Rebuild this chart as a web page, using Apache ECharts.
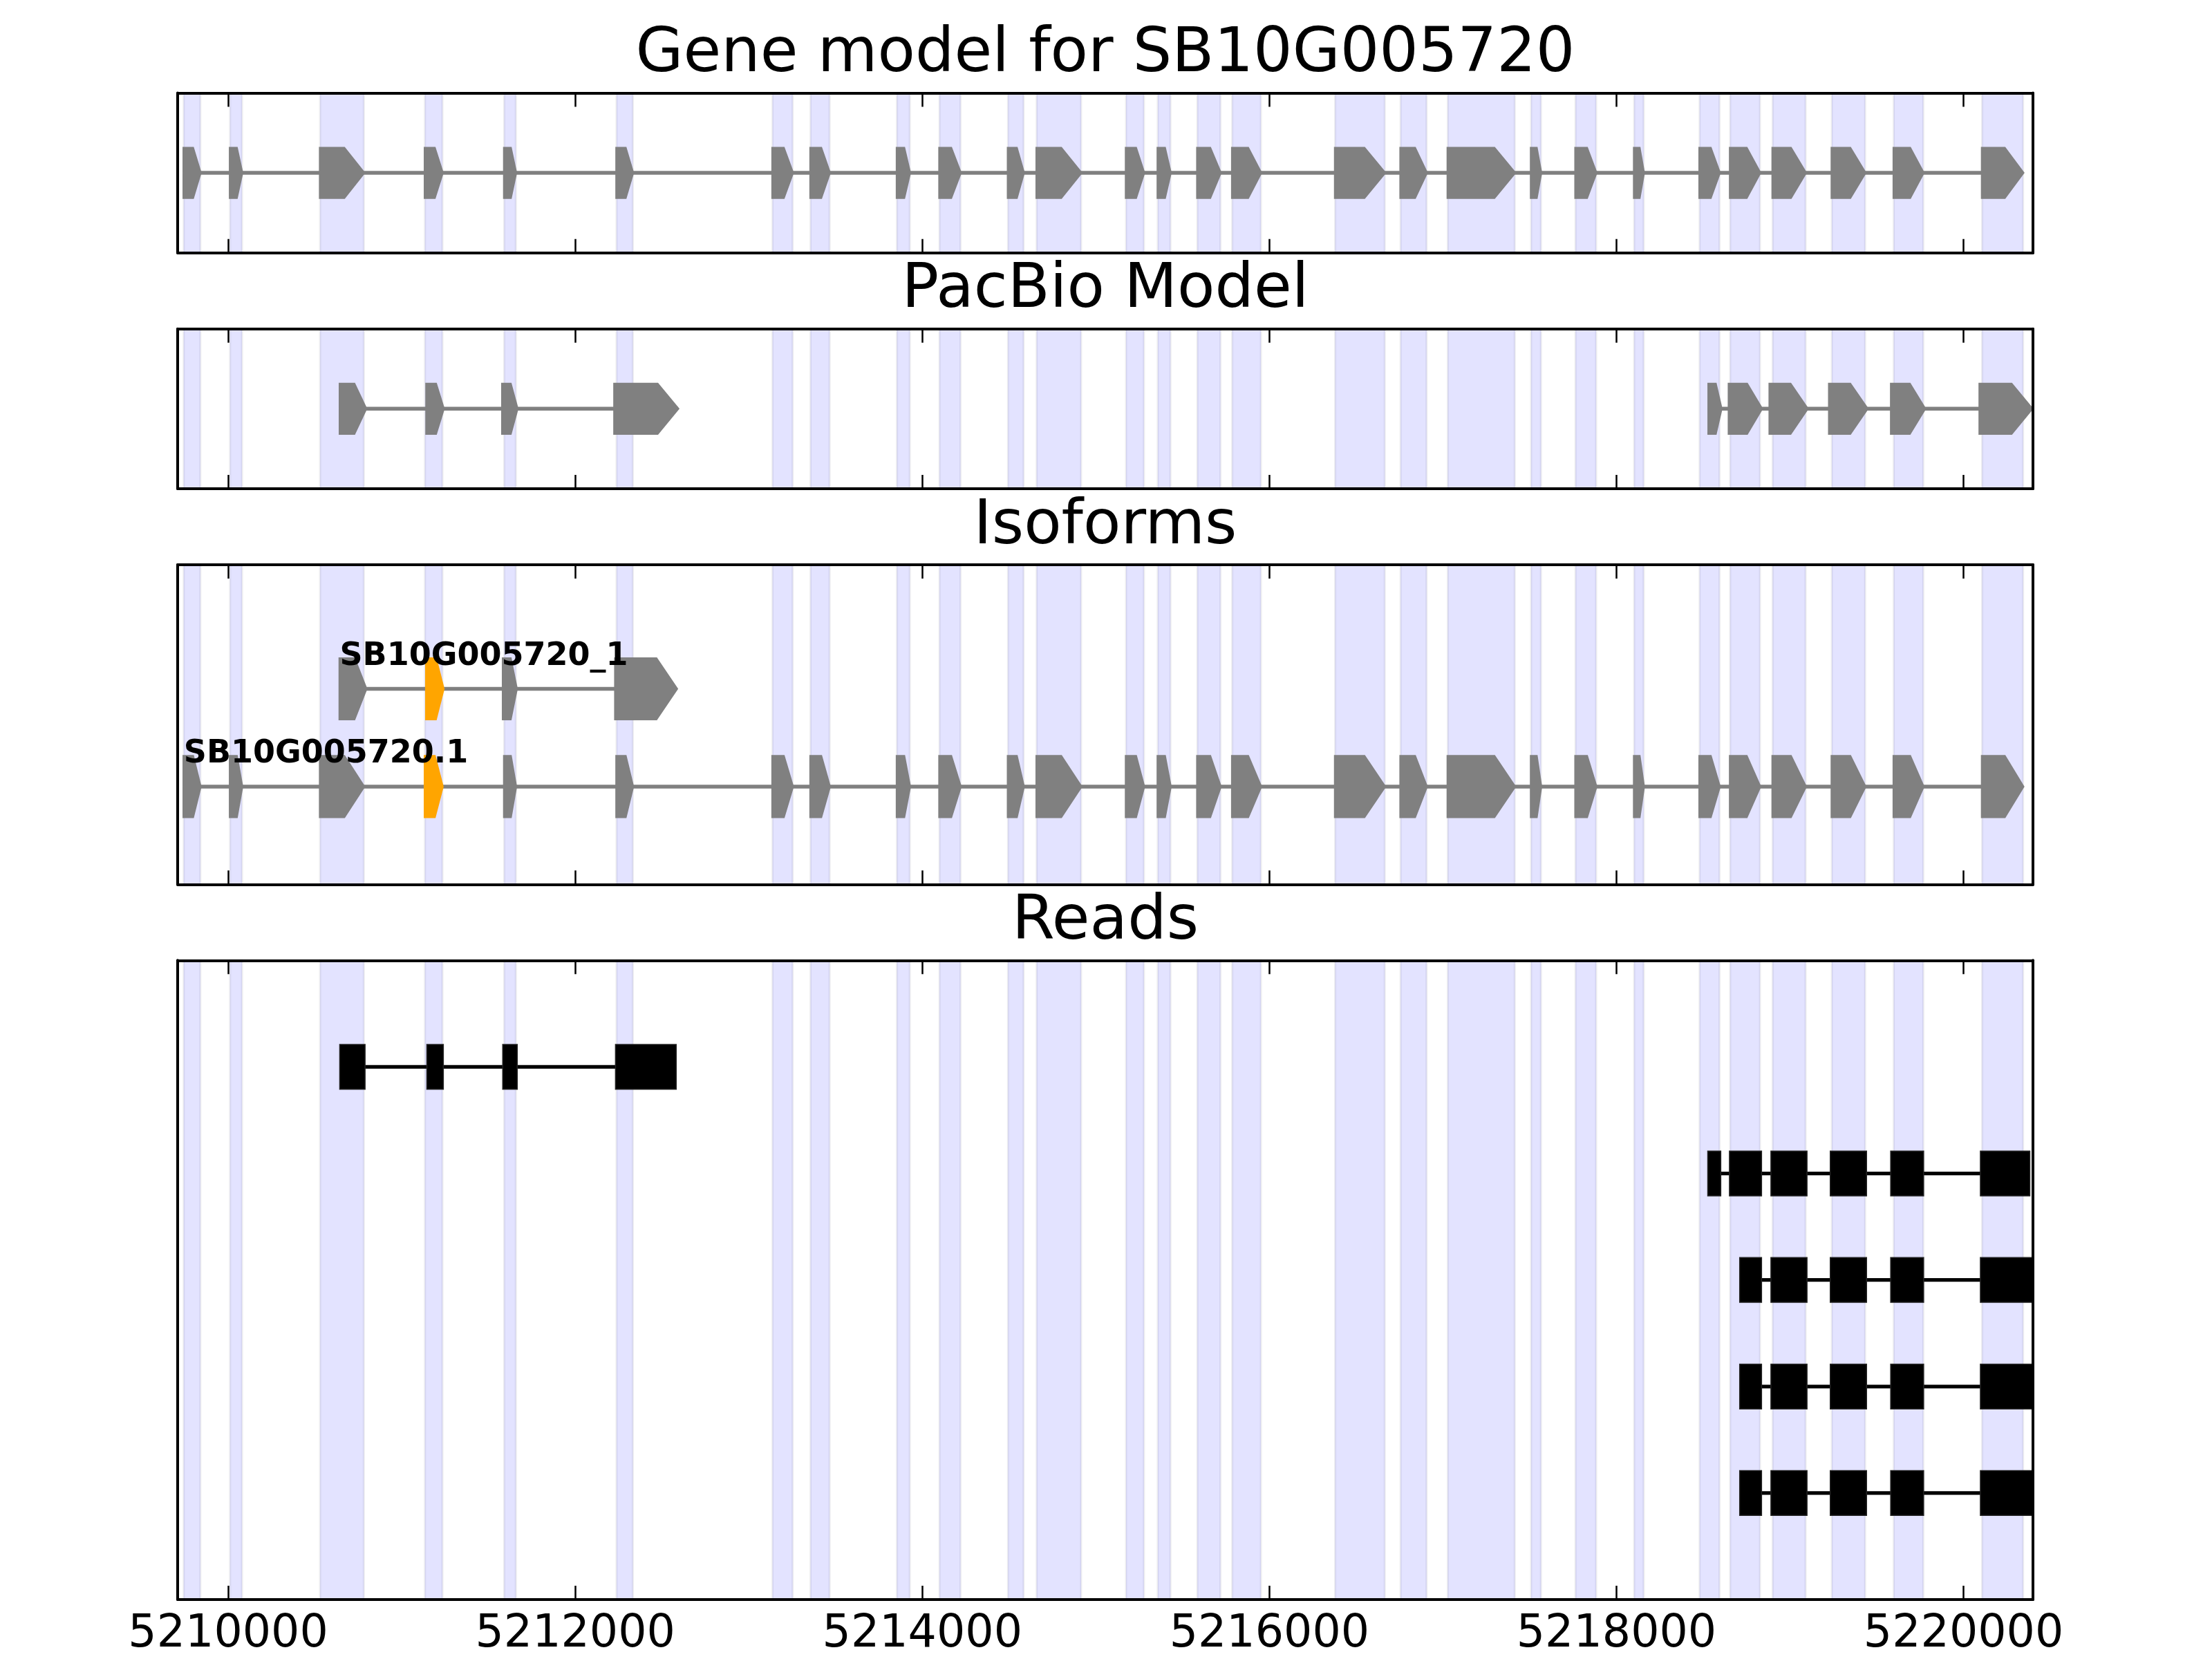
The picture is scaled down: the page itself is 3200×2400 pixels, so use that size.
<!DOCTYPE html>
<html><head><meta charset="utf-8">
<script src="https://cdn.jsdelivr.net/npm/echarts@6/dist/echarts.min.js"></script>
<style>html,body{margin:0;padding:0;background:#fff}#c{width:3200px;height:2400px}</style>
</head><body><div id="c"></div><script>
// ---------------- data ----------------
const xMin = 5209709, xMax = 5220400;
const tickValues = [5210000, 5212000, 5214000, 5216000, 5218000, 5220000];
const mainTitle = 'Gene model for SB10G005720';
const panelTitles = ['PacBio Model', 'Isoforms', 'Reads'];
const geneExons = [
  [5209744,5209840],[5210011,5210080],[5210530,5210782],[5211134,5211235],[5211591,5211658],
  [5212238,5212332],[5213137,5213253],[5213356,5213466],[5213854,5213928],[5214099,5214220],
  [5214494,5214584],[5214659,5214915],[5215174,5215277],[5215357,5215430],[5215585,5215718],
  [5215786,5215951],[5216379,5216665],[5216756,5216906],[5217028,5217414],[5217508,5217565],
  [5217764,5217883],[5218102,5218157],[5218479,5218594],[5218655,5218827],[5218900,5219090],
  [5219241,5219433],[5219598,5219768],[5220107,5220343]
];
const pacbioTranscripts = [
  [[5210644,5210794],[5211143,5211241],[5211580,5211666],[5212226,5212592]],
  [[5218531,5218604],[5218648,5218837],[5218883,5219100],[5219226,5219445],[5219583,5219777],[5220093,5220394]]
];
const isoformNames = ['SB10G005720_1', 'SB10G005720.1'];
const isoformRows = [2, 1];
const isoformExons = [
  [[5210643,5210795],[5211142,5211240],[5211584,5211662],[5212231,5212585]],
  geneExons
];
const isoformHighlight = [1, 3];
const readRows = [5, 4, 3, 2, 1];
const readExons = [
  [[5210643,5210789],[5211145,5211240],[5211582,5211666],[5212232,5212582]],
  [[5218526,5218601],[5218651,5218836],[5218890,5219098],[5219232,5219441],[5219580,5219770],[5220097,5220382]],
  [[5218710,5218836],[5218890,5219098],[5219232,5219441],[5219580,5219770],[5220097,5220450]],
  [[5218710,5218836],[5218890,5219098],[5219232,5219441],[5219580,5219770],[5220097,5220450]],
  [[5218710,5218836],[5218890,5219098],[5219232,5219441],[5219580,5219770],[5220097,5220450]]
];
const yRanges = [[0, 2], [0, 2], [0, 3.27], [0, 6]];

// ---------------- layout / style ----------------
const GRID_LEFT = 257, GRID_WIDTH = 2684;
const GRID_TOPS = [134.5, 475.7, 816.9, 1389.3];
const GRID_HEIGHTS = [231.2, 231.2, 462.4, 924.8];
const GRAY = '#808080', ORANGE = '#FFA500';
const ARROW_H = 0.62, READ_H = 0.42;
const FONT = '"DejaVu Sans", "Bitstream Vera Sans", sans-serif';

const chart = echarts.init(document.getElementById('c'), null, {renderer: 'canvas'});

function renderBand(params, api) {
  const cs = params.coordSys;
  const p0 = api.coord([api.value(0), 0]);
  const p1 = api.coord([api.value(1), 0]);
  const r = echarts.graphic.clipRectByRect({x: p0[0], y: cs.y, width: p1[0] - p0[0], height: cs.height}, cs);
  if (!r) return null;
  return {type: 'rect', shape: r, style: {fill: 'rgba(0,0,255,0.11)', stroke: 'rgba(0,0,40,0.07)', lineWidth: 3}};
}
function lineRenderer(color, width) {
  return function (params, api) {
    const cs = params.coordSys;
    const p0 = api.coord([api.value(0), api.value(2)]);
    const p1 = api.coord([api.value(1), api.value(2)]);
    const x1 = Math.max(p0[0], cs.x), x2 = Math.min(p1[0], cs.x + cs.width);
    return {type: 'line', shape: {x1: x1, y1: p0[1], x2: x2, y2: p1[1]}, style: {stroke: color, lineWidth: width}};
  };
}
function renderArrow(params, api) {
  const s = api.value(0), e = api.value(1), row = api.value(2), hl = api.value(3);
  const head = Math.min(0.45 * (e - s), 118);
  const a = api.coord([s, row]), b = api.coord([e - head, row]), c = api.coord([e, row]);
  const h = api.size([0, ARROW_H])[1] / 2;
  const color = hl ? ORANGE : GRAY;
  return {type: 'polygon', shape: {points: [[a[0], a[1] - h], [b[0], b[1] - h], [c[0], c[1]], [b[0], b[1] + h], [a[0], a[1] + h]]},
    style: {fill: color, stroke: color, lineWidth: 3.5}};
}
function renderRead(params, api) {
  const cs = params.coordSys;
  const row = api.value(2);
  const p0 = api.coord([api.value(0), row + READ_H / 2]);
  const p1 = api.coord([api.value(1), row - READ_H / 2]);
  const r = echarts.graphic.clipRectByRect({x: p0[0], y: p0[1], width: p1[0] - p0[0], height: p1[1] - p0[1]}, cs);
  if (!r) return null;
  return {type: 'rect', shape: r, style: {fill: '#000', stroke: '#222', lineWidth: 1.5}};
}
function renderLabel(params, api) {
  const p = api.coord([api.value(0), api.value(1) + 0.33]);
  return {type: 'text', x: p[0], y: p[1], style: {text: isoformNames[params.dataIndex], fill: '#000',
    fontSize: 46, fontWeight: 'bold', fontFamily: FONT, align: 'left', verticalAlign: 'middle'}};
}

const grids = [], xAxes = [], yAxes = [], series = [];
for (let p = 0; p < 4; p++) {
  grids.push({left: GRID_LEFT, top: GRID_TOPS[p], width: GRID_WIDTH, height: GRID_HEIGHTS[p], show: false});
  ['bottom', 'top'].forEach(function (pos) {
    xAxes.push({type: 'value', gridIndex: p, position: pos, min: xMin, max: xMax, z: 10,
      axisLine: {show: true, onZero: false, lineStyle: {color: '#000', width: 4}},
      axisTick: {show: true, inside: true, length: 20, customValues: tickValues, lineStyle: {color: '#000', width: 2.5}},
      axisLabel: {show: (p === 3 && pos === 'bottom'), customValues: tickValues, margin: 19, fontSize: 65,
        fontFamily: FONT, color: '#000', formatter: function (v) { return String(Math.round(v)); }},
      splitLine: {show: false}});
  });
  ['left', 'right'].forEach(function (pos) {
    yAxes.push({type: 'value', gridIndex: p, position: pos, min: yRanges[p][0], max: yRanges[p][1], z: 10,
      axisLine: {show: true, onZero: false, lineStyle: {color: '#000', width: 4}},
      axisTick: {show: false}, axisLabel: {show: false}, splitLine: {show: false}});
  });
  series.push({type: 'custom', xAxisIndex: 2 * p, yAxisIndex: 2 * p, renderItem: renderBand, z: 1,
    data: geneExons.map(function (ex) { return [ex[0], ex[1]]; })});
}

// panel 0: gene model
series.push({type: 'custom', xAxisIndex: 0, yAxisIndex: 0, z: 2, renderItem: lineRenderer(GRAY, 5.5),
  data: [[geneExons[0][0], geneExons[geneExons.length - 1][1], 1]]});
series.push({type: 'custom', xAxisIndex: 0, yAxisIndex: 0, z: 3, renderItem: renderArrow,
  data: geneExons.map(function (ex) { return [ex[0], ex[1], 1, 0]; })});

// panel 1: PacBio
series.push({type: 'custom', xAxisIndex: 2, yAxisIndex: 2, z: 2, renderItem: lineRenderer(GRAY, 5.5),
  data: pacbioTranscripts.map(function (t) { return [t[0][0], t[t.length - 1][1], 1]; })});
const pbArrows = [];
pacbioTranscripts.forEach(function (t) { t.forEach(function (ex) { pbArrows.push([ex[0], ex[1], 1, 0]); }); });
series.push({type: 'custom', xAxisIndex: 2, yAxisIndex: 2, z: 3, renderItem: renderArrow, data: pbArrows});

// panel 2: isoforms
series.push({type: 'custom', xAxisIndex: 4, yAxisIndex: 4, z: 2, renderItem: lineRenderer(GRAY, 5.5),
  data: isoformExons.map(function (t, i) { return [t[0][0], t[t.length - 1][1], isoformRows[i]]; })});
const isoArrows = [];
isoformExons.forEach(function (t, i) {
  t.forEach(function (ex, j) { isoArrows.push([ex[0], ex[1], isoformRows[i], j === isoformHighlight[i] ? 1 : 0]); });
});
series.push({type: 'custom', xAxisIndex: 4, yAxisIndex: 4, z: 3, renderItem: renderArrow, data: isoArrows});
series.push({type: 'custom', xAxisIndex: 4, yAxisIndex: 4, z: 4, renderItem: renderLabel,
  data: isoformExons.map(function (t, i) { return [t[0][0], isoformRows[i]]; })});

// panel 3: reads
series.push({type: 'custom', xAxisIndex: 6, yAxisIndex: 6, z: 2, renderItem: lineRenderer('#000', 5.3),
  data: readExons.map(function (t, i) { return [t[0][0], t[t.length - 1][1], readRows[i]]; })});
const readRects = [];
readExons.forEach(function (t, i) { t.forEach(function (ex) { readRects.push([ex[0], ex[1], readRows[i]]); }); });
series.push({type: 'custom', xAxisIndex: 6, yAxisIndex: 6, z: 3, renderItem: renderRead, data: readRects});

const titles = [mainTitle].concat(panelTitles);
const graphics = titles.map(function (t, i) {
  return {type: 'text', x: GRID_LEFT + GRID_WIDTH / 2, y: GRID_TOPS[i] - 28 - 0.297 * 89,
    style: {text: t, fontSize: 89, fontFamily: FONT, fill: '#000', align: 'center', verticalAlign: 'middle'}};
});

chart.setOption({
  backgroundColor: '#fff',
  animation: false,
  grid: grids, xAxis: xAxes, yAxis: yAxes, series: series, graphic: graphics
});
</script></body></html>
